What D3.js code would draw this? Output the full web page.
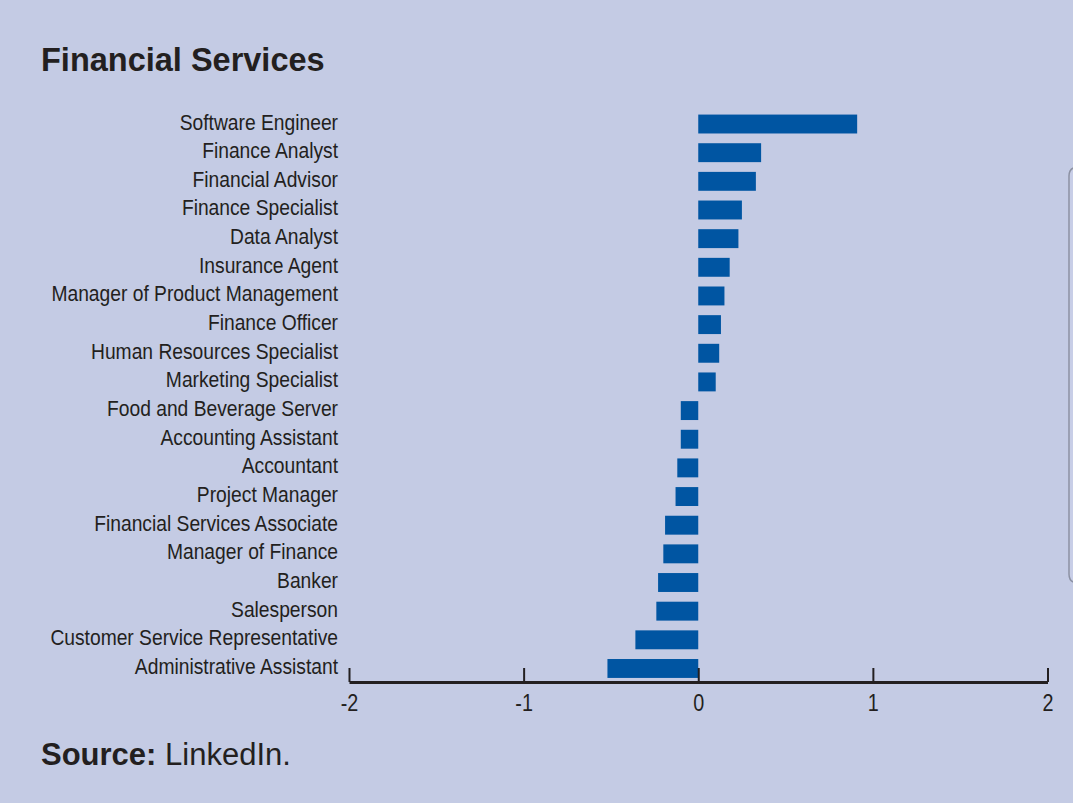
<!DOCTYPE html>
<html>
<head>
<meta charset="utf-8">
<script src="https://cdn.jsdelivr.net/npm/d3@7"></script>
<style>
  html, body { margin: 0; padding: 0; background: #c4cbe4; }
  svg { display: block; }
  text { font-family: "Liberation Sans", Arial, Helvetica, sans-serif; fill: #231f20; }
</style>
</head>
<body>
<script>
const categories = [
  "Software Engineer", "Finance Analyst", "Financial Advisor", "Finance Specialist",
  "Data Analyst", "Insurance Agent", "Manager of Product Management", "Finance Officer",
  "Human Resources Specialist", "Marketing Specialist", "Food and Beverage Server",
  "Accounting Assistant", "Accountant", "Project Manager", "Financial Services Associate",
  "Manager of Finance", "Banker", "Salesperson", "Customer Service Representative",
  "Administrative Assistant"
];
const values = [
  0.91, 0.36, 0.33, 0.25, 0.23, 0.18, 0.15, 0.13, 0.12, 0.10,
  -0.10, -0.10, -0.12, -0.13, -0.19, -0.20, -0.23, -0.24, -0.36, -0.52
];
const tickValues = [-2, -1, 0, 1, 2];
const titleText = "Financial Services";
const sourceLabel = "Source:";
const sourceText = " LinkedIn.";

const W = 1073, H = 803;
const svg = d3.select("body").append("svg").attr("width", W).attr("height", H);
svg.append("rect").attr("width", W).attr("height", H).attr("fill", "#c4cbe4");

// device frame edge artifact at right
svg.append("path")
  .attr("d", "M1080,167 H1078 Q1069,167 1069,176 V574 Q1069,583 1078,583 H1080")
  .attr("fill", "#c8cee7").attr("stroke", "#8c91a3").attr("stroke-width", 1.5);

const x = d3.scaleLinear().domain([-2, 2]).range([349, 1047.5]);
const y = d3.scaleBand().domain(categories).range([109.7, 682.8])
  .paddingInner(0.34).paddingOuter(0.17);

// title
svg.append("text").attr("x", 41).attr("y", 71)
  .attr("font-size", 32.5).attr("font-weight", "bold").text(titleText);

// bars
svg.append("g").selectAll("rect").data(categories).join("rect")
  .attr("x", (d, i) => x(Math.min(0, values[i])))
  .attr("width", (d, i) => Math.abs(x(values[i]) - x(0)))
  .attr("y", d => y(d))
  .attr("height", y.bandwidth())
  .attr("fill", "#0055a2");

// category labels
svg.append("g").selectAll("text").data(categories).join("text")
  .attr("transform", d => `translate(338,${y(d) + y.bandwidth() / 2 + 5.5}) scale(0.875,1)`)
  .attr("text-anchor", "end")
  .attr("font-size", 22)
  .attr("fill", "#2a2a30")
  .text(d => d);

// x axis
const axis = d3.axisBottom(x).tickValues(tickValues).tickSize(-14).tickSizeOuter(0).tickPadding(13)
  .tickFormat(d3.format("d"));
const gx = svg.append("g").attr("transform", "translate(0,682)").call(axis);
gx.select(".domain").attr("stroke", "#231f20").attr("stroke-width", 3);
gx.selectAll(".tick line").attr("stroke", "#231f20").attr("stroke-width", 2);
gx.selectAll(".tick text")
  .attr("font-size", 23).attr("font-family", "Liberation Sans, Arial, sans-serif")
  .attr("fill", "#2a2a30")
  .attr("transform", "scale(0.86,1)")
  .text(d => d < 0 ? "-" + Math.abs(d) : String(d));

// source
const src = svg.append("text").attr("x", 41).attr("y", 765).attr("font-size", 31);
src.append("tspan").attr("font-weight", "bold").text(sourceLabel);
src.append("tspan").text(sourceText);
</script>
</body>
</html>
